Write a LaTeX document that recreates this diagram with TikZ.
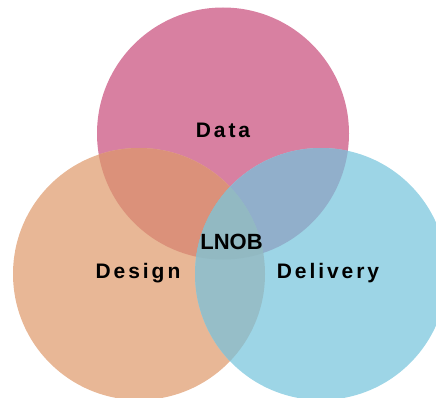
\documentclass[tikz,border=0pt]{standalone}
\usepackage{fontspec}
\setmainfont{Liberation Sans}
\newfontfamily\labelfont[LetterSpace=14]{Liberation Sans}
\definecolor{cData}{RGB}{216,128,161}
\definecolor{cDesign}{RGB}{232,183,150}
\definecolor{cDelivery}{RGB}{157,213,230}
\definecolor{cDataDesign}{RGB}{219,145,122}
\definecolor{cDataDelivery}{RGB}{145,175,203}
\definecolor{cDesignDelivery}{RGB}{150,190,200}
\definecolor{cAll}{RGB}{146,185,194}
\tikzset{
  setlabel/.style={anchor=base, inner sep=0pt, font=\labelfont\bfseries\fontsize{21}{25}\selectfont, text=black},
  corelabel/.style={anchor=base, inner sep=0pt, font=\bfseries\fontsize{22}{26}\selectfont, text=black}
}
\begin{document}
\begin{tikzpicture}[x=1pt,y=-1pt]
\useasboundingbox (0,0) rectangle (436,398);
\begin{scope}
\clip (0,0) rectangle (436,398);
% the three sets
\fill[cData] (223,133.5) circle (126);
\fill[cDesign] (139,274) circle (126);
\fill[cDelivery] (321,274) circle (126);
% pairwise overlaps
\begin{scope}
  \clip (223,133.5) circle (126);
  \fill[cDataDesign] (139,274) circle (126);
  \fill[cDataDelivery] (321,274) circle (126);
\end{scope}
\begin{scope}
  \clip (139,274) circle (126);
  \fill[cDesignDelivery] (321,274) circle (126);
\end{scope}
% common core
\begin{scope}
  \clip (223,133.5) circle (126);
  \clip (139,274) circle (126);
  \fill[cAll] (321,274) circle (126);
\end{scope}
\end{scope}
\node[setlabel] (data) at (223,137.7) {Data};
\node[setlabel] (design) at (138,278.3) {Design};
\node[setlabel] (delivery) at (328,278.3) {Delivery};
\node[corelabel] (core) at (231.5,249) {LNOB};
\end{tikzpicture}
\end{document}
